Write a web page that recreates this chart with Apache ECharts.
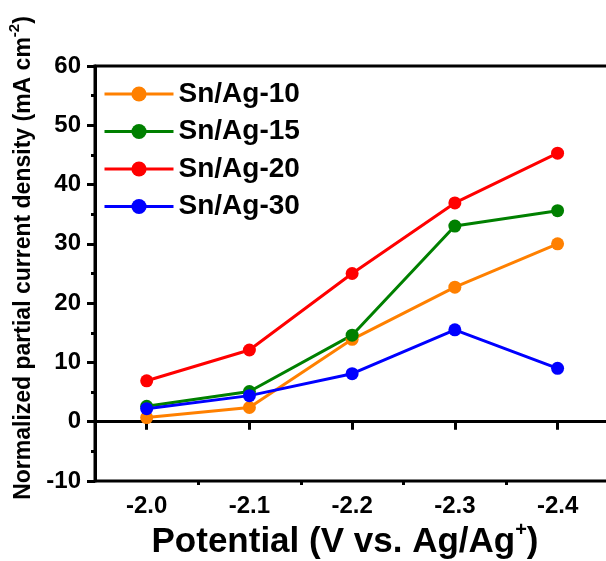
<!DOCTYPE html>
<html>
<head>
<meta charset="utf-8">
<style>
  html, body { margin: 0; padding: 0; background: #fff; }
  #chart { width: 606px; height: 561px; }
</style>
<script src="https://cdn.jsdelivr.net/npm/echarts@6/dist/echarts.min.js"></script>
</head>
<body>
<div id="chart"></div>
<script>
// Applied potentials (V vs. Ag/Ag+)
const potentials = [-2.0, -2.1, -2.2, -2.3, -2.4];
const minorPotentials = [-2.05, -2.15, -2.25, -2.35, -2.45];

// Normalized partial current density (mA cm^-2) per catalyst
const snAg10 = [0.7, 2.4, 13.9, 22.7, 30.0];
const snAg15 = [2.6, 5.1, 14.6, 33.0, 35.6];
const snAg20 = [6.9, 12.1, 25.0, 36.9, 45.3];
const snAg30 = [2.2, 4.4, 8.1, 15.5, 9.0];

const seriesNames = ['Sn/Ag-10', 'Sn/Ag-15', 'Sn/Ag-20', 'Sn/Ag-30'];
const seriesColors = ['#FF8000', '#008000', '#FF0000', '#0000FF'];
const seriesValues = [snAg10, snAg15, snAg20, snAg30];

const yTicks = [-10, 0, 10, 20, 30, 40, 50, 60];

const FONT = '"Liberation Sans", Arial, Helvetica, sans-serif';

const chart = echarts.init(document.getElementById('chart'), null, { renderer: 'canvas' });

const series = seriesNames.map((name, i) => ({
  name: name,
  type: 'line',
  xAxisIndex: 0,
  data: potentials.map((p, k) => [p, seriesValues[i][k]]),
  symbol: 'circle',
  symbolSize: 13,
  color: seriesColors[i],
  lineStyle: { width: 3, color: seriesColors[i] },
  itemStyle: { color: seriesColors[i] },
  emphasis: { disabled: true },
  animation: false
}));

const xRange = { min: -2.452, max: -1.9497 };

chart.setOption({
  animation: false,
  grid: {
    left: 95, top: 66, right: -5, bottom: 80,
    show: true, borderColor: '#000', borderWidth: 3,
    containLabel: false, outerBoundsMode: 'none'
  },
  legend: {
    orient: 'vertical',
    left: 103, top: 80,
    padding: 0,
    itemWidth: 69, itemHeight: 19,
    itemGap: 9.5,
    data: seriesNames,
    lineStyle: { width: 3 },
    textStyle: { fontFamily: FONT, fontWeight: 'bold', fontSize: 28, color: '#000', lineHeight: 28 },
    selectedMode: false
  },
  xAxis: [
    {
      type: 'value', inverse: true,
      min: xRange.min, max: xRange.max,
      axisLine: { show: true, lineStyle: { color: '#000', width: 3 } },
      axisTick: { show: true, customValues: potentials, length: 8, lineStyle: { color: '#000', width: 3 } },
      axisLabel: {
        show: true, customValues: potentials, margin: 13,
        formatter: v => v.toFixed(1),
        fontFamily: FONT, fontWeight: 'bold', fontSize: 24, color: '#000'
      },
      splitLine: { show: false }
    },
    {
      // minor ticks between the labelled potentials
      type: 'value', inverse: true, position: 'bottom',
      min: xRange.min, max: xRange.max,
      axisLine: { show: false },
      axisTick: { show: true, customValues: minorPotentials, length: 4, lineStyle: { color: '#000', width: 3 } },
      axisLabel: { show: false },
      splitLine: { show: false }
    }
  ],
  yAxis: {
    type: 'value', min: -10, max: 60, interval: 10,
    axisLine: { show: true, lineStyle: { color: '#000', width: 3 } },
    axisTick: { show: true, length: 8, lineStyle: { color: '#000', width: 3 } },
    minorTick: { show: true, splitNumber: 2, length: 4, lineStyle: { color: '#000', width: 3 } },
    axisLabel: {
      margin: 14,
      fontFamily: FONT, fontWeight: 'bold', fontSize: 24, color: '#000',
      formatter: v => (yTicks.indexOf(v) >= 0 ? String(v) : '')
    },
    splitLine: { show: false }
  },
  graphic: [
    {
      type: 'text',
      x: 21, y: 258,
      rotation: Math.PI / 2,
      style: {
        text: '{t|Normalized partial current density (mA cm}{s|-2}{t|)}',
        align: 'center', verticalAlign: 'middle',
        fill: '#000',
        rich: {
          t: { fontFamily: FONT, fontWeight: 'bold', fontSize: 23, lineHeight: 28, verticalAlign: 'bottom' },
          s: { fontFamily: FONT, fontWeight: 'bold', fontSize: 15, lineHeight: 28, verticalAlign: 'top' }
        }
      }
    },
    {
      type: 'text',
      x: 345, y: 540,
      style: {
        text: '{t|Potential (V vs. Ag/Ag}{s|+}{t|)}',
        align: 'center', verticalAlign: 'middle',
        fill: '#000',
        rich: {
          t: { fontFamily: FONT, fontWeight: 'bold', fontSize: 35, lineHeight: 40, verticalAlign: 'bottom' },
          s: { fontFamily: FONT, fontWeight: 'bold', fontSize: 20, lineHeight: 40, verticalAlign: 'top' }
        }
      }
    }
  ],
  series: series
});
</script>
</body>
</html>
